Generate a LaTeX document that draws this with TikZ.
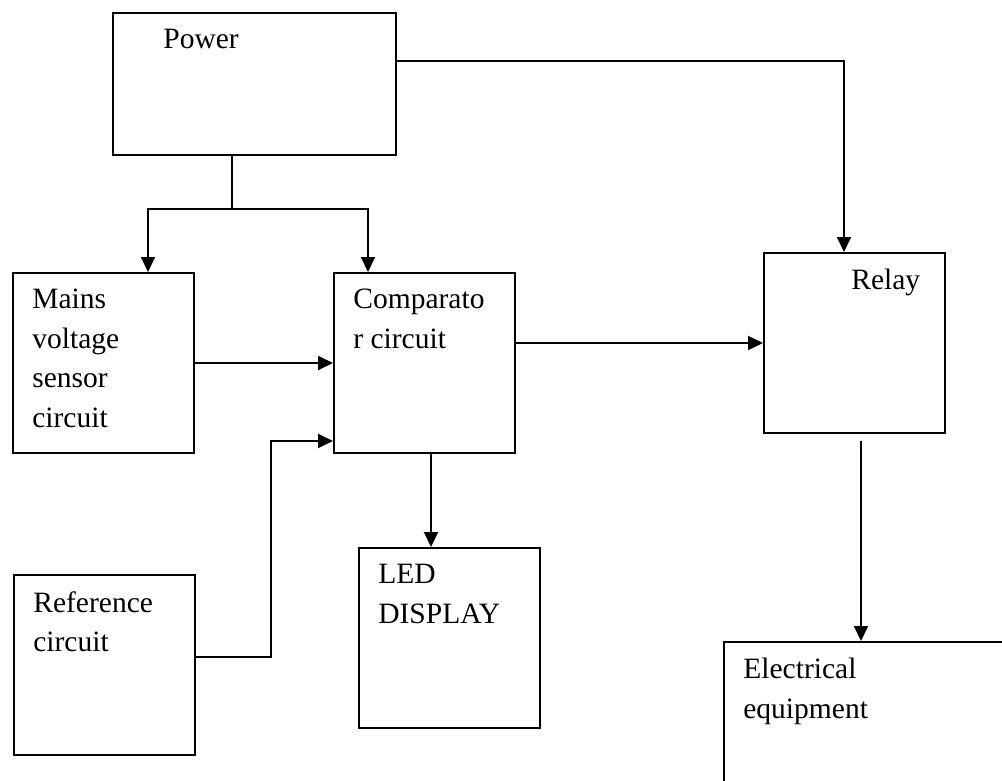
\documentclass[tikz,border=0pt]{standalone}
\usepackage{fontspec}
\setmainfont{Liberation Serif}
\usetikzlibrary{calc,arrows.meta}

\tikzset{
  blk/.style={draw, line width=1.1pt, inner sep=0pt, anchor=north west,
    minimum width=3.62cm, minimum height=3.6cm},
  txt/.style={anchor=north west, inner sep=0pt, align=left,
    font=\fontsize{16.8pt}{22.5pt}\selectfont, xshift=0.4cm, yshift=-0.34cm},
  wire/.style={line width=1.1pt},
  arr/.style={wire, -{Triangle[length=0.3cm, width=0.28cm]}}
}

\begin{document}
\begin{tikzpicture}[x=0.02cm, y=-0.02cm]
  \path[use as bounding box, clip] (0,0) rectangle (1002,781);

  % Blocks
  \node[blk, minimum width=5.66cm, minimum height=2.84cm,
        label={[txt, xshift=0.62cm]north west:Power}] (power) at (112,12) {};
  \node[blk, label={[txt]north west:Mains\\voltage\\sensor\\circuit}] (mains) at (12,272) {};
  \node[blk, label={[txt]north west:Comparato\\r circuit}] (comp) at (333,272) {};
  \node[blk, label={[txt, xshift=1.36cm]north west:Relay}] (relay) at (763,252) {};
  \node[blk, label={[txt]north west:LED\\DISPLAY}] (led) at (358,547) {};
  \node[blk, label={[txt]north west:Reference\\circuit}] (ref) at (13,574) {};
  \node[blk, minimum width=5.94cm, minimum height=3.2cm,
        label={[txt]north west:Electrical\\equipment}] (equip) at (723,641) {};

  % Wiring points
  \coordinate (split) at (232,209);
  \coordinate (ytop) at (0,61);
  \coordinate (xm) at (148,0);
  \coordinate (xc) at (368,0);
  \coordinate (xpr) at (844,0);
  \coordinate (yms) at (0,363);
  \coordinate (ycr) at (0,343);
  \coordinate (yrc) at (0,441);
  \coordinate (refbend) at (271,657);
  \coordinate (xcl) at (431,0);
  \coordinate (relayout) at (861,441);

  % Power feed
  \draw[wire] (power.south -| split) -- (split);
  \draw[arr] (split) -| (mains.north -| xm);
  \draw[arr] (split) -| (comp.north -| xc);
  \draw[arr] (power.east |- ytop) -| (relay.north -| xpr);

  % Signals
  \draw[arr] (mains.east |- yms) -- (comp.west |- yms);
  \draw[arr] (ref.east |- refbend) -- (refbend) |- (comp.west |- yrc);
  \draw[arr] (comp.east |- ycr) -- (relay.west |- ycr);
  \draw[arr] (comp.south -| xcl) -- (led.north -| xcl);
  \draw[arr] (relayout) -- (equip.north -| relayout);
\end{tikzpicture}
\end{document}
